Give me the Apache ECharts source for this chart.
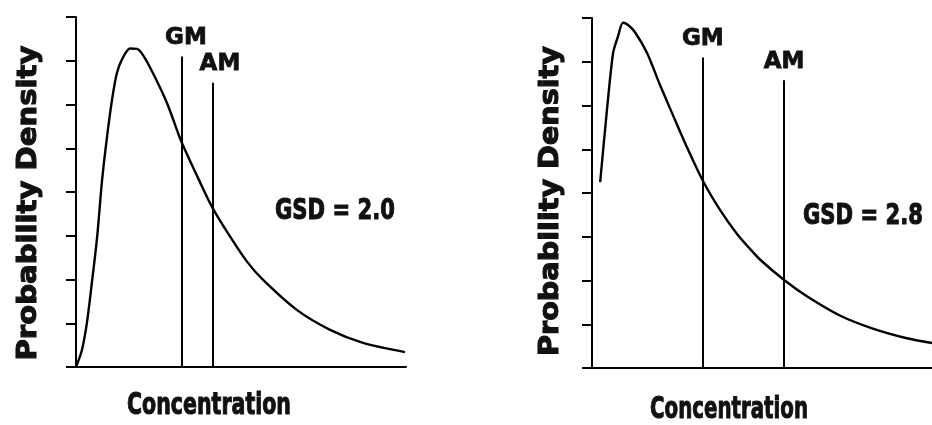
<!DOCTYPE html>
<html>
<head>
<meta charset="utf-8">
<script src="https://cdn.jsdelivr.net/npm/echarts@6/dist/echarts.min.js"></script>
<style>
html,body{margin:0;padding:0;background:#fff;}
#chart{width:932px;height:425px;}
</style>
</head>
<body>
<div id="chart"></div>
<script>
// ---- Data ----
// Left panel (GSD = 2.0): concentration (arbitrary units 0-100) vs probability density (0-8)
const leftConc    = [0, 1.8, 3.3, 4.8, 6.4, 7.9, 9.4, 10.9, 12.4, 14.2, 16.4, 18.5, 20.3, 23.3, 27.6, 30.9, 32.1, 37.6, 41.5, 46.7, 51.7, 56.7, 67.0, 77.0, 87.0, 99.7];
const leftDensity = [0, 0.39, 1.01, 1.92, 2.97, 4.27, 5.26, 6.10, 6.72, 7.07, 7.28, 7.27, 7.13, 6.72, 6.03, 5.35, 5.12, 4.22, 3.62, 2.98, 2.42, 1.99, 1.30, 0.85, 0.55, 0.34];
// Right panel (GSD = 2.8)
const rightConc    = [2.4, 4.4, 6.2, 7.6, 9.1, 10.6, 12.6, 16.2, 20.0, 23.8, 27.9, 32.6, 37.6, 42.6, 46.5, 49.4, 56.5, 63.2, 72.9, 82.6, 92.6, 100];
const rightDensity = [4.25, 5.90, 7.20, 7.57, 7.89, 7.84, 7.68, 7.20, 6.47, 5.78, 5.05, 4.28, 3.62, 3.07, 2.72, 2.48, 2.01, 1.64, 1.20, 0.90, 0.68, 0.57];
// Marker lines: [label, concentration, top of line]
const leftMarkers  = [['GM', 32.1, 7.10], ['AM', 41.5, 6.50]];
const rightMarkers = [['GM', 32.6, 7.10], ['AM', 56.5, 6.58]];
const gsdLabels = ['GSD = 2.0', 'GSD = 2.8'];
const yAxisTitle = 'Probability Density';
const xAxisTitle = 'Concentration';
const yMin = 0, yMax = 8, yStep = 1;

// ---- helpers ----
const FONT = 'DejaVu Sans';
const INK = '#111';
const ctx = document.createElement('canvas').getContext('2d');
function fitScale(text, size, target) {
  ctx.font = 'bold ' + size + 'px "DejaVu Sans"';
  const w = ctx.measureText(text).width;
  return w > 0 ? target / w : 1;
}
function zip(xs, ys) { return xs.map((x, i) => [x, ys[i]]); }
function markerLabel(shift) {
  return {
    show: true, position: 'end', formatter: '{b}', distance: 7,
    color: INK, fontSize: 23, fontWeight: 'bold', fontFamily: FONT,
    textBorderColor: INK, textBorderWidth: 0.8,
    padding: [0, 0, 0, shift]
  };
}
function markerData(markers, shifts) {
  return markers.map((m, i) => [
    { name: m[0], coord: [m[1], 0], label: markerLabel(shifts[i]) },
    { name: m[0], coord: [m[1], m[2]], label: markerLabel(shifts[i]) }
  ]);
}

const axisLine = { show: true, lineStyle: { color: '#000', width: 2 } };

const chart = echarts.init(document.getElementById('chart'), null, { renderer: 'canvas' });

function textEl(text, x, y, size, target, rot) {
  return {
    type: 'text', x: x, y: y, rotation: rot || 0,
    scaleX: fitScale(text, size, target),
    style: {
      text: text, fill: INK, fontSize: size, fontWeight: 'bold', fontFamily: FONT,
      stroke: INK, lineWidth: 1.1, align: 'center', verticalAlign: 'middle'
    },
    silent: true
  };
}

const option = {
  animation: false,
  backgroundColor: '#fff',
  grid: [
    { left: 76, top: 17, width: 330, bottom: 58 },
    { left: 592, top: 18, width: 340, bottom: 57 }
  ],
  xAxis: [0, 1].map(i => ({
    type: 'value', gridIndex: i, min: 0, max: 100,
    axisLine: axisLine, axisTick: { show: false }, axisLabel: { show: false }, splitLine: { show: false }
  })),
  yAxis: [0, 1].map(i => ({
    type: 'value', gridIndex: i, min: yMin, max: yMax, interval: yStep,
    axisLine: axisLine,
    axisTick: { show: true, inside: false, length: 10, lineStyle: { color: '#000', width: 2 } },
    axisLabel: { show: false }, splitLine: { show: false }
  })),
  series: [
    {
      type: 'line', xAxisIndex: 0, yAxisIndex: 0, data: zip(leftConc, leftDensity),
      smooth: 0.3, symbol: 'none', lineStyle: { color: '#000', width: 2.4 },
      markLine: {
        silent: true, symbol: ['none', 'none'],
        lineStyle: { type: 'solid', color: '#000', width: 2 },
        label: markerLabel(0),
        data: markerData(leftMarkers, [8, 14])
      }
    },
    {
      type: 'line', xAxisIndex: 1, yAxisIndex: 1, data: zip(rightConc, rightDensity),
      smooth: 0.25, symbol: 'none', lineStyle: { color: '#000', width: 2.4 },
      markLine: {
        silent: true, symbol: ['none', 'none'],
        lineStyle: { type: 'solid', color: '#000', width: 2 },
        label: markerLabel(0),
        data: markerData(rightMarkers, [0, 0])
      }
    }
  ],
  graphic: [
    textEl(yAxisTitle, 29, 203, 27, 315, Math.PI / 2),
    textEl(yAxisTitle, 551, 201, 27, 310, Math.PI / 2),
    textEl(xAxisTitle, 209, 406, 30, 164),
    textEl(xAxisTitle, 729, 410, 30, 158),
    textEl(gsdLabels[0], 335, 211, 29, 120),
    textEl(gsdLabels[1], 863, 216, 29, 120)
  ]
};
chart.setOption(option);
</script>
</body>
</html>
